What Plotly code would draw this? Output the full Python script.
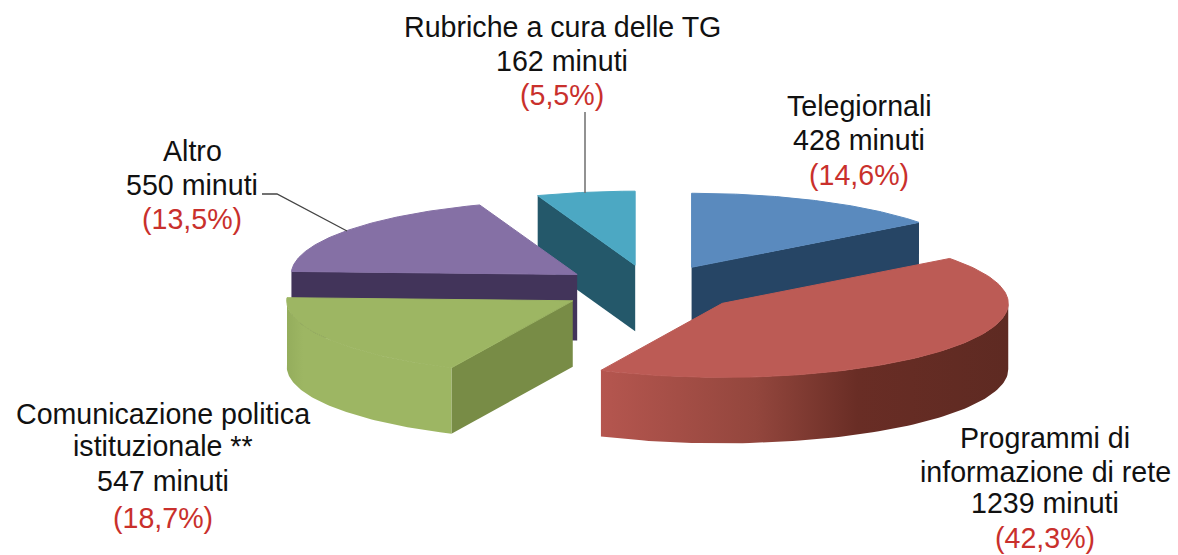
import math
import numpy as np
import plotly.graph_objects as go

# ---- data -----------------------------------------------------------------
categories = ["Telegiornali", "Programmi di informazione di rete",
              "Comunicazione politica istituzionale", "Altro", "Rubriche a cura delle TG"]
minutes = [428, 1239, 547, 550, 162]
label_lines = [
    ["Telegiornali", "428 minuti"],
    ["Programmi di", "informazione di rete", "1239 minuti"],
    ["Comunicazione politica", "istituzionale **", "547 minuti"],
    ["Altro", "550 minuti"],
    ["Rubriche a cura delle TG", "162 minuti"],
]
percent_labels = ["(14,6%)", "(42,3%)", "(18,7%)", "(13,5%)", "(5,5%)"]

# ---- styling / layout ------------------------------------------------------
top_colors = ["#5A8ABE", "#BC5B55", "#9DB663", "#8570A5", "#4CA8C3"]
edge_colors = ["#264565", "#7A3830", "#788C46", "#42345A", "#24586A"]
arc_scales = {
    1: [[0, "#B5564F"], [0.38, "#93463D"], [0.63, "#692D25"], [1, "#5E2A22"]],
    2: [[0, "#94AD5C"], [0.1, "#9DB663"], [1, "#9DB663"]],
}
draw_order = [4, 3, 0, 2, 1]
CX, CY, RX, RY, DEPTH, PULL = 651, 288.5, 286, 74, 66, 0.32
label_x = [859, 1045, 163, 192, 562]
label_y = [[106, 140, 175], [438, 472, 503, 538], [414, 446, 481, 518],
           [151, 185, 219], [27, 61, 95]]
FONT = "Liberation Sans, Arial, sans-serif"
TEXT, RED = "#111111", "#C9302C"

fracs = np.array(minutes) / sum(minutes)
ends = np.cumsum(fracs) * 360
starts = ends - fracs * 360


def pt(t, ox, oy):
    r = math.radians(t)
    return ox + RX * math.sin(r), oy - RY * math.cos(r)


fig = go.Figure()


def poly(xs, ys, color=None, scale=None, outline=None):
    kw = dict(x=list(xs), y=list(ys), mode="lines",
              line=dict(width=1, color=outline) if outline else dict(width=0),
              fill="toself", hoverinfo="skip", showlegend=False)
    if scale:
        kw["fillgradient"] = dict(type="horizontal", colorscale=scale)
    else:
        kw["fillcolor"] = color
    fig.add_trace(go.Scatter(**kw))


for i in draw_order:
    a0, a1 = starts[i], ends[i]
    mid = math.radians((a0 + a1) / 2)
    ox = CX + PULL * RX * math.sin(mid)
    oy = CY - PULL * RY * math.cos(mid)
    # radial cut faces
    for ang, visible in ((a0, math.sin(math.radians(a0)) < -1e-6),
                         (a1, math.sin(math.radians(a1)) > 1e-6)):
        if visible:
            px, py = pt(ang, ox, oy)
            poly([ox, px, px, ox, ox], [oy, py, py + DEPTH, oy + DEPTH, oy], edge_colors[i])
    # outer wall (front part of the arc)
    lo, hi = max(a0, 90), min(a1, 272.5)
    if hi > lo:
        ts = np.linspace(lo, hi, 80)
        pts = [pt(t, ox, oy) for t in ts]
        xs = [p[0] for p in pts]
        ys = [p[1] for p in pts]
        poly(xs + xs[::-1] + xs[:1], ys + [y + DEPTH for y in ys[::-1]] + ys[:1],
             edge_colors[i], arc_scales.get(i))
    # top face
    ts = np.linspace(a0, a1, 120)
    pts = [pt(t, ox, oy) for t in ts]
    poly([ox] + [p[0] for p in pts] + [ox], [oy] + [p[1] for p in pts] + [oy],
         top_colors[i], outline=top_colors[i])

# leader lines
fig.add_trace(go.Scatter(x=[585, 585], y=[112, 193], mode="lines",
                         line=dict(color="#6E6E6E", width=1.5), hoverinfo="skip", showlegend=False))
fig.add_trace(go.Scatter(x=[262, 277, 347], y=[194, 194, 231], mode="lines",
                         line=dict(color="#444444", width=1.3), hoverinfo="skip", showlegend=False))

annotations = []
for i in range(len(categories)):
    lines = label_lines[i] + [percent_labels[i]]
    for j, txt in enumerate(lines):
        annotations.append(dict(x=label_x[i], y=label_y[i][j], text=txt, showarrow=False,
                                xref="x", yref="y", xanchor="center", yanchor="middle",
                                font=dict(family=FONT, size=28.6,
                                          color=RED if j == len(lines) - 1 else TEXT)))

fig.update_layout(
    width=1178, height=555, autosize=False,
    margin=dict(l=0, r=0, t=0, b=0),
    paper_bgcolor="white", plot_bgcolor="white",
    xaxis=dict(range=[0, 1178], visible=False, fixedrange=True),
    yaxis=dict(range=[555, 0], visible=False, fixedrange=True),
    annotations=annotations,
    showlegend=False,
)
fig.write_html("out.html", config={"displayModeBar": False},
               post_script="document.body.style.margin='0';")
